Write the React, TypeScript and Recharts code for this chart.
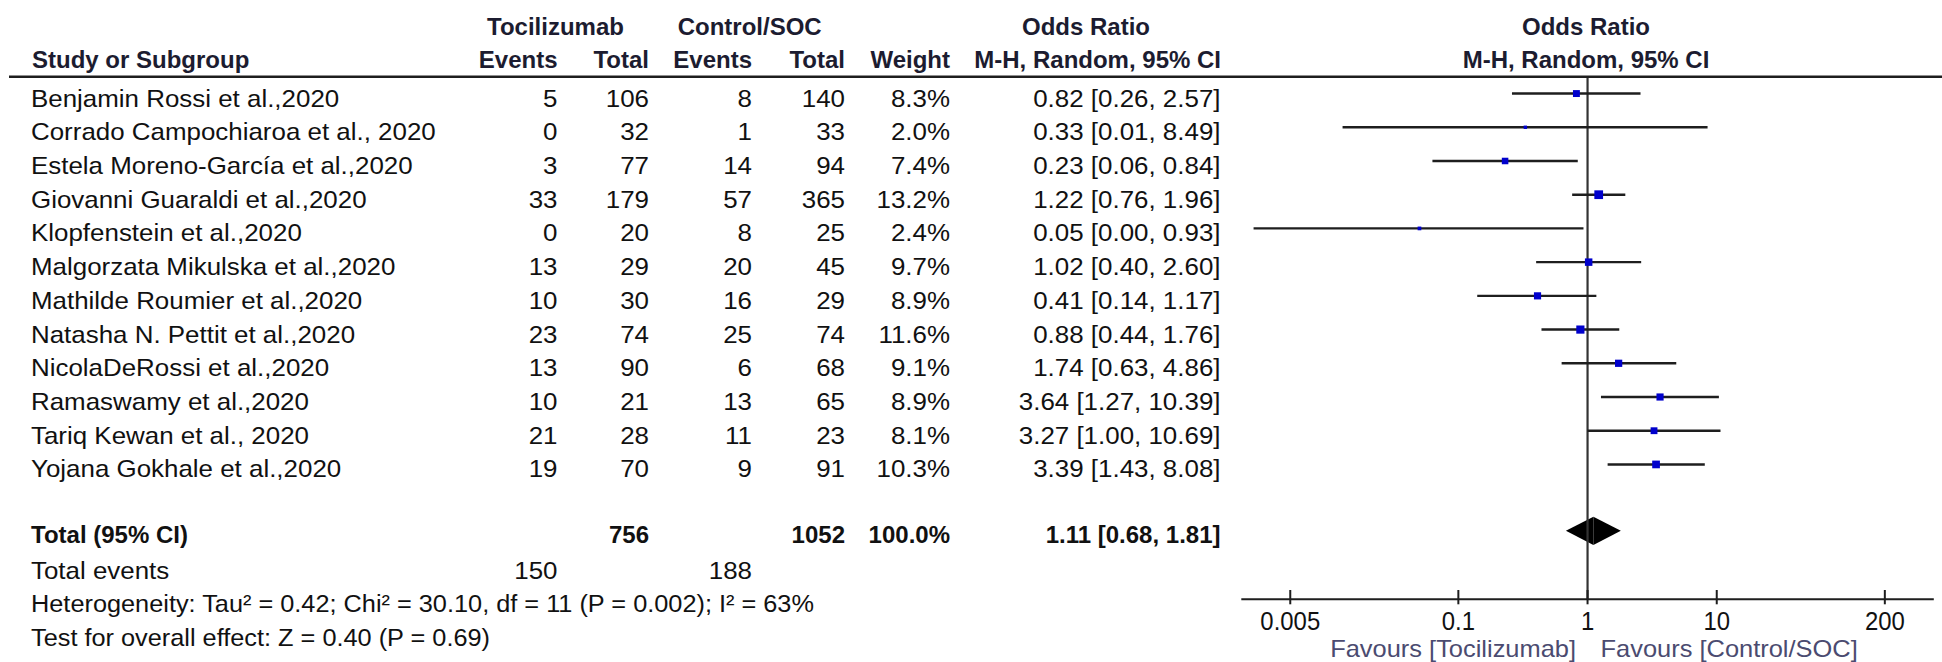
import {
  ScatterChart,
  Scatter,
  XAxis,
  YAxis,
  ReferenceLine,
  ReferenceDot,
  ReferenceArea,
} from "recharts";

const studies = [
  "Benjamin Rossi et al.,2020",
  "Corrado Campochiaroa et al., 2020",
  "Estela Moreno-García et al.,2020",
  "Giovanni Guaraldi et al.,2020",
  "Klopfenstein et al.,2020",
  "Malgorzata Mikulska et al.,2020",
  "Mathilde Roumier et al.,2020",
  "Natasha N. Pettit et al.,2020",
  "NicolaDeRossi et al.,2020",
  "Ramaswamy et al.,2020",
  "Tariq Kewan et al., 2020",
  "Yojana Gokhale et al.,2020",
];
const tociEvents = [5, 0, 3, 33, 0, 13, 10, 23, 13, 10, 21, 19];
const tociTotal = [106, 32, 77, 179, 20, 29, 30, 74, 90, 21, 28, 70];
const ctrlEvents = [8, 1, 14, 57, 8, 20, 16, 25, 6, 13, 11, 9];
const ctrlTotal = [140, 33, 94, 365, 25, 45, 29, 74, 68, 65, 23, 91];
const weights = [8.3, 2.0, 7.4, 13.2, 2.4, 9.7, 8.9, 11.6, 9.1, 8.9, 8.1, 10.3];
const oddsRatio = [0.82, 0.33, 0.23, 1.22, 0.05, 1.02, 0.41, 0.88, 1.74, 3.64, 3.27, 3.39];
const ciLow = [0.26, 0.0127, 0.063, 0.76, 0.0026, 0.4, 0.14, 0.44, 0.63, 1.27, 1.0, 1.43];
const ciHigh = [2.57, 8.49, 0.84, 1.96, 0.93, 2.6, 1.17, 1.76, 4.86, 10.39, 10.69, 8.08];

const pooledOR = 1.11;
const pooledLow = 0.68;
const pooledHigh = 1.81;
const grandTotals = [756, 1052];
const totalEvents = [150, 188];
const axisTicks = [0.005, 0.1, 1, 10, 200];
const heterogeneity = "Heterogeneity: Tau² = 0.42; Chi² = 30.10, df = 11 (P = 0.002); I² = 63%";
const overallEffect = "Test for overall effect: Z = 0.40 (P = 0.69)";

// column anchors of the table (px)
const COL = { name: 31, e1: 557.5, n1: 649, e2: 752, n2: 845, w: 950, or: 1220.5 };
const FONT = "Arial, 'Liberation Sans', sans-serif";
const LINE = "#1e1e1e";

const fmt = (v: number) => v.toFixed(2);

const T = ({ x, y, anchor = "start", bold = false, sx, size = 24, fill = "#111", children }: any) => (
  <text
    transform={`translate(${x},${y}) scale(${sx ?? (bold ? 1 : 1.08)},1)`}
    textAnchor={anchor}
    fontFamily={FONT}
    fontSize={size}
    fontWeight={bold ? 700 : 400}
    fill={fill}
  >
    {children}
  </text>
);

const squarePts = studies.map((s, i) => ({ x: oddsRatio[i], y: i, w: weights[i], name: s }));

const Square = (p: any) => {
  const w = p.payload?.w ?? p.w;
  const s = 2.4 * Math.sqrt(w);
  return <rect x={p.cx - s / 2} y={p.cy - s / 2} width={s} height={s} fill="#0000cc" />;
};

const AxisTick = ({ x, y, payload }: any) => (
  <g>
    <line x1={x} x2={x} y1={y - 9.3} y2={y + 5} stroke={LINE} strokeWidth={2} />
    <T x={x} y={y + 30.5} anchor="middle" sx={0.92} size={26}>
      {String(payload.value)}
    </T>
  </g>
);

const HEAD = "#1c1c30";

const Header = ({ cy }: any) => {
  const a = cy - 41.7;
  const b = cy - 8.4;
  return (
    <g>
      <line x1={9} x2={1942} y1={cy} y2={cy} stroke={LINE} strokeWidth={2.5} />
      <T x={555.5} y={a} anchor="middle" bold fill={HEAD}>Tocilizumab</T>
      <T x={749.7} y={a} anchor="middle" bold fill={HEAD}>Control/SOC</T>
      <T x={1086} y={a} anchor="middle" bold fill={HEAD}>Odds Ratio</T>
      <T x={1586} y={a} anchor="middle" bold fill={HEAD}>Odds Ratio</T>
      <T x={32} y={b} bold fill={HEAD}>Study or Subgroup</T>
      <T x={COL.e1} y={b} anchor="end" bold fill={HEAD}>Events</T>
      <T x={COL.n1} y={b} anchor="end" bold fill={HEAD}>Total</T>
      <T x={COL.e2} y={b} anchor="end" bold fill={HEAD}>Events</T>
      <T x={COL.n2} y={b} anchor="end" bold fill={HEAD}>Total</T>
      <T x={COL.w} y={b} anchor="end" bold fill={HEAD}>Weight</T>
      <T x={1221} y={b} anchor="end" bold fill={HEAD}>M-H, Random, 95% CI</T>
      <T x={1586} y={b} anchor="middle" bold fill={HEAD}>M-H, Random, 95% CI</T>
    </g>
  );
};

const StudyRow = ({ cy, i }: any) => {
  const y = cy + 13;
  return (
    <g>
      <T x={COL.name} y={y}>{studies[i]}</T>
      <T x={COL.e1} y={y} anchor="end">{tociEvents[i]}</T>
      <T x={COL.n1} y={y} anchor="end">{tociTotal[i]}</T>
      <T x={COL.e2} y={y} anchor="end">{ctrlEvents[i]}</T>
      <T x={COL.n2} y={y} anchor="end">{ctrlTotal[i]}</T>
      <T x={COL.w} y={y} anchor="end">{weights[i].toFixed(1)}%</T>
      <T x={COL.or} y={y} anchor="end">
        {`${fmt(oddsRatio[i])} [${fmt(ciLow[i])}, ${fmt(ciHigh[i])}]`}
      </T>
    </g>
  );
};

const TotalRow = ({ cy }: any) => {
  const y = cy + 11;
  const wSum = weights.reduce((a, b) => a + b, 0);
  return (
    <g>
      <T x={COL.name} y={y} bold>Total (95% CI)</T>
      <T x={COL.n1} y={y} anchor="end" bold>{grandTotals[0]}</T>
      <T x={COL.n2} y={y} anchor="end" bold>{grandTotals[1]}</T>
      <T x={COL.w} y={y} anchor="end" bold>{Math.round(wSum).toFixed(1)}%</T>
      <T x={COL.or} y={y} anchor="end" bold>
        {`${fmt(pooledOR)} [${fmt(pooledLow)}, ${fmt(pooledHigh)}]`}
      </T>
    </g>
  );
};

const FooterRow = ({ cy, kind }: any) => {
  const y = cy + 13;
  if (kind === "events")
    return (
      <g>
        <T x={COL.name} y={y}>Total events</T>
        <T x={COL.e1} y={y} anchor="end">{totalEvents[0]}</T>
        <T x={COL.e2} y={y} anchor="end">{totalEvents[1]}</T>
      </g>
    );
  return (
    <T x={COL.name} y={y} sx={1.055}>
      {kind === "het" ? heterogeneity : overallEffect}
    </T>
  );
};

const Favours = ({ cx, cy }: any) => (
  <g>
    <T x={cx - 11.5} y={cy + 57.5} anchor="end" sx={1.06} fill="#4b4b70">Favours [Tocilizumab]</T>
    <T x={cx + 13} y={cy + 57.5} sx={1.06} fill="#4b4b70">Favours [Control/SOC]</T>
  </g>
);

const DiamondLeft = ({ x, y, width, height }: any) => (
  <polygon points={`${x},${y + height / 2} ${x + width},${y} ${x + width},${y + height}`} fill="#000" />
);
const DiamondRight = ({ x, y, width, height }: any) => (
  <polygon points={`${x},${y} ${x + width},${y + height / 2} ${x},${y + height}`} fill="#000" />
);

export default function App() {
  return (
    <div style={{ width: 1942, height: 662, background: "#fff" }}>
      <style>{`body{margin:0}`}</style>
      <ScatterChart width={1942} height={662} margin={{ top: 76.7, right: 8.2, bottom: 22.7, left: 1241.3 }}>
        <XAxis
          type="number"
          dataKey="x"
          scale="log"
          domain={[Math.pow(10, -2.68), Math.pow(10, 2.68)]}
          ticks={axisTicks}
          interval={0}
          height={40}
          tickSize={0}
          tickMargin={0}
          tickLine={false}
          axisLine={{ stroke: LINE, strokeWidth: 2 }}
          tick={<AxisTick />}
        />
        <YAxis type="number" dataKey="y" domain={[-0.5, 15]} reversed hide width={0} />

        <ReferenceLine x={1} stroke="#333" strokeWidth={2.2} ifOverflow="visible" />
        {studies.map((s, i) => (
          <ReferenceLine
            key={s}
            segment={[
              { x: ciLow[i], y: i },
              { x: ciHigh[i], y: i },
            ]}
            stroke={LINE}
            strokeWidth={2.4}
          />
        ))}
        <ReferenceArea x1={pooledLow} x2={pooledOR} y1={12.55} y2={13.39} shape={DiamondLeft} />
        <ReferenceArea x1={pooledOR} x2={pooledHigh} y1={12.55} y2={13.39} shape={DiamondRight} />

        <Scatter data={squarePts} dataKey="y" shape={Square} isAnimationActive={false} />

        <ReferenceDot x={1} y={-0.5} r={0} ifOverflow="visible" shape={(p: any) => <Header cy={p.cy} />} />
        {studies.map((s, i) => (
          <ReferenceDot
            key={"row" + s}
            x={1}
            y={i}
            r={0}
            ifOverflow="visible"
            shape={(p: any) => <StudyRow cy={p.cy} i={i} />}
          />
        ))}
        <ReferenceDot x={1} y={13} r={0} ifOverflow="visible" shape={(p: any) => <TotalRow cy={p.cy} />} />
        <ReferenceDot x={1} y={14} r={0} ifOverflow="visible" shape={(p: any) => <FooterRow cy={p.cy} kind="events" />} />
        <ReferenceDot x={1} y={15} r={0} ifOverflow="visible" shape={(p: any) => <FooterRow cy={p.cy} kind="het" />} />
        <ReferenceDot x={1} y={16} r={0} ifOverflow="visible" shape={(p: any) => <FooterRow cy={p.cy} kind="test" />} />
        <ReferenceDot x={1} y={15} r={0} ifOverflow="visible" shape={(p: any) => <Favours cx={p.cx} cy={p.cy} />} />
      </ScatterChart>
    </div>
  );
}
